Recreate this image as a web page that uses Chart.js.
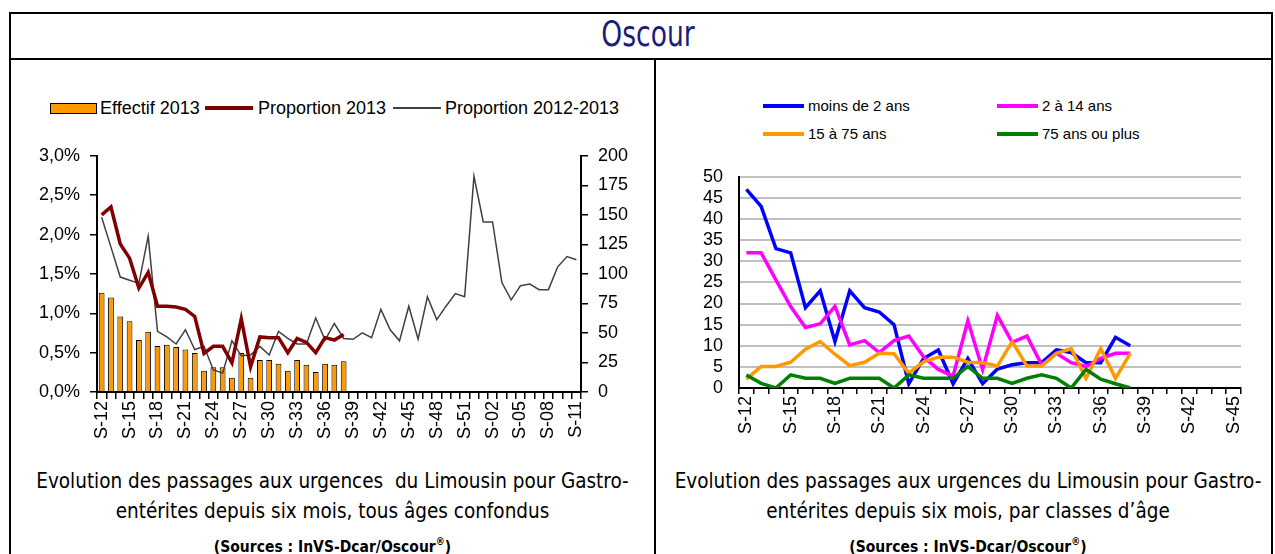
<!DOCTYPE html>
<html>
<head>
<meta charset="utf-8">
<script src="https://cdn.jsdelivr.net/npm/chart.js@4/dist/chart.umd.min.js"></script>
<style>
  body { margin: 0; background: #fff; width: 1275px; height: 554px; overflow: hidden; position: relative;
         font-family: "Liberation Sans", Arial, sans-serif; }
  .ln { position: absolute; background: #000; }
  #title { position: absolute; left: 548px; width: 200px; top: 12px; text-align: center; line-height: 44px;
           font-family: "DejaVu Sans Condensed", "DejaVu Sans", sans-serif; font-stretch: condensed;
           font-size: 36px; color: #1c1c7c; transform: scaleX(0.82); }
  canvas { position: absolute; }
  .sym { position: absolute; }
  .txt { position: absolute; white-space: nowrap; color: #000; line-height: 20px; }
  .cap { position: absolute; text-align: center; line-height: 29px; color: #000; white-space: nowrap;
         font-family: "DejaVu Sans Condensed", "DejaVu Sans", sans-serif; font-stretch: condensed;
         font-size: 20.5px; transform: scaleY(1.05); }
  .src { font-weight: bold; font-size: 15.5px; }
  .src sup { font-size: 10px; }
</style>
</head>
<body>
<!-- frame -->
<div class="ln" style="left:9px;top:12px;width:1264px;height:2px"></div>
<div class="ln" style="left:9px;top:12px;width:2px;height:542px"></div>
<div class="ln" style="left:1271px;top:12px;width:2px;height:542px"></div>
<div class="ln" style="left:9px;top:58px;width:1264px;height:2px"></div>
<div class="ln" style="left:654px;top:58px;width:2px;height:496px"></div>
<div id="title">Oscour</div>

<!-- left legend -->
<div class="sym" style="left:50px;top:103px;width:47px;height:11px;background:#ff9900;border:1.5px solid #000;box-sizing:border-box"></div>
<div class="txt" style="left:100px;top:98px;font-size:18px">Effectif 2013</div>
<div class="sym" style="left:205px;top:106px;width:48px;height:4px;background:#800000"></div>
<div class="txt" style="left:258px;top:98px;font-size:18px">Proportion 2013</div>
<div class="sym" style="left:393px;top:107px;width:48px;height:2px;background:#404040"></div>
<div class="txt" style="left:445px;top:98px;font-size:18px">Proportion 2012-2013</div>

<!-- right legend -->
<div class="sym" style="left:763px;top:104px;width:41px;height:4px;background:#0000ff"></div>
<div class="txt" style="left:808px;top:96px;font-size:15px">moins de 2 ans</div>
<div class="sym" style="left:997px;top:104px;width:41px;height:4px;background:#ff00ff"></div>
<div class="txt" style="left:1042px;top:96px;font-size:15px">2 à 14 ans</div>
<div class="sym" style="left:763px;top:132px;width:41px;height:4px;background:#ff9900"></div>
<div class="txt" style="left:808px;top:124px;font-size:15px">15 à 75 ans</div>
<div class="sym" style="left:997px;top:132px;width:41px;height:4px;background:#008000"></div>
<div class="txt" style="left:1042px;top:124px;font-size:15px">75 ans ou plus</div>

<canvas id="left" width="640" height="315" style="left:14px;top:135px"></canvas>
<canvas id="right" width="600" height="300" style="left:665px;top:150px"></canvas>

<div class="cap" style="left:11px;width:643px;top:468px">
  Evolution des passages aux urgences&nbsp; du Limousin pour Gastro-<br>
  entérites depuis six mois, tous âges confondus<br>
  <span class="src">(Sources : InVS-Dcar/Oscour<sup>®</sup>)</span>
</div>
<div class="cap" style="left:660px;width:616px;top:468px">
  Evolution des passages aux urgences du Limousin pour Gastro-<br>
  entérites depuis six mois, par classes d’âge<br>
  <span class="src">(Sources : InVS-Dcar/Oscour<sup>®</sup>)</span>
</div>

<script>
// weeks on the left chart (one year)
const weeksLeft = ["S-12","S-13","S-14","S-15","S-16","S-17","S-18","S-19","S-20","S-21","S-22","S-23","S-24",
  "S-25","S-26","S-27","S-28","S-29","S-30","S-31","S-32","S-33","S-34","S-35","S-36","S-37","S-38","S-39",
  "S-40","S-41","S-42","S-43","S-44","S-45","S-46","S-47","S-48","S-49","S-50","S-51","S-52","S-01","S-02",
  "S-03","S-04","S-05","S-06","S-07","S-08","S-09","S-10","S-11"];
// weeks on the right chart
const weeksRight = ["S-12","S-13","S-14","S-15","S-16","S-17","S-18","S-19","S-20","S-21","S-22","S-23","S-24",
  "S-25","S-26","S-27","S-28","S-29","S-30","S-31","S-32","S-33","S-34","S-35","S-36","S-37","S-38","S-39",
  "S-40","S-41","S-42","S-43","S-44","S-45"];

// left chart series
const effectif2013 = [84, 80, 64, 60, 44, 51, 39, 40, 38, 36, 33, 18, 21, 21, 12, 33, 12, 27, 27, 24, 18, 27, 23, 17, 24, 23, 26];
const proportion2013 = [2.25, 2.35, 1.88, 1.70, 1.32, 1.52, 1.09, 1.09, 1.08, 1.05, 0.96, 0.49, 0.58, 0.58, 0.37,
  0.93, 0.32, 0.70, 0.69, 0.69, 0.50, 0.68, 0.63, 0.50, 0.69, 0.66, 0.73];
const proportion20122013 = [2.22, 1.84, 1.46, 1.42, 1.38, 1.98, 0.77, 0.70, 0.61, 0.79, 0.54, 0.58, 0.28, 0.24,
  0.65, 0.46, 0.47, 0.58, 0.47, 0.77, 0.68, 0.61, 0.61, 0.94, 0.66, 0.87, 0.68, 0.67, 0.75, 0.69, 1.05, 0.79,
  0.65, 1.09, 0.67, 1.21, 0.92, 1.09, 1.25, 1.21, 2.74, 2.16, 2.16, 1.39, 1.17, 1.35, 1.37, 1.30, 1.30, 1.59,
  1.72, 1.68];
const pctTicks = ["0,0%", "0,5%", "1,0%", "1,5%", "2,0%", "2,5%", "3,0%"];

// right chart series (by age class)
const moins2ans = [47, 43, 33, 32, 19, 23, 11, 23, 19, 18, 15, 1, 7, 9, 1, 7, 1, 4.5, 5.5, 6, 6, 9, 8.4, 6, 6, 12, 10];
const de2a14 = [32, 32, 25.6, 19.3, 14.3, 15.2, 19.3, 10.2, 11.2, 8.4, 11.2, 12.3, 7.4, 4.4, 2.8, 15.9, 4.4, 17.2,
  10.8, 12.3, 5.5, 8.2, 6, 5.1, 7, 8.2, 8.2];
const de15a75 = [2.1, 5.1, 5.1, 6.1, 9.2, 11, 8, 5.3, 6.1, 8.2, 8.1, 3.5, 6.2, 7.3, 7.3, 6.1, 6, 5.2, 11, 5.2, 5.2,
  8.2, 9.3, 2.3, 9.3, 2.3, 8.2];
const plus75 = [3.1, 1.1, 0, 3.1, 2.3, 2.3, 1.1, 2.3, 2.3, 2.3, 0, 3.1, 2.3, 2.3, 2.3, 5.1, 2.3, 2.3, 1.1, 2.3, 3.1,
  2.3, 0, 4.4, 2.1, 1, 0];

Chart.defaults.font.family = '"Liberation Sans", Arial, sans-serif';
Chart.defaults.font.size = 18;
Chart.defaults.color = "#000";

// every third week gets a label
function everyThird(v, i) {
  return i % 3 === 0 ? this.getLabelForValue(v) : "";
}

new Chart(document.getElementById("left"), {
  type: "bar",
  data: {
    labels: weeksLeft,
    datasets: [
      { type: "line", label: "Proportion 2013", data: proportion2013, yAxisID: "y",
        borderColor: "#800000", borderWidth: 3.5, pointRadius: 0, order: 0 },
      { type: "line", label: "Proportion 2012-2013", data: proportion20122013, yAxisID: "y",
        borderColor: "#404040", borderWidth: 1.5, pointRadius: 0, order: 1 },
      { type: "bar", label: "Effectif 2013", data: effectif2013, yAxisID: "y1",
        backgroundColor: "#ff9900", borderColor: "#000", borderWidth: 1,
        categoryPercentage: 1, barPercentage: 0.62, order: 2 }
    ]
  },
  options: {
    responsive: false,
    animation: false,
    layout: { padding: { top: 10, bottom: 3, left: 0, right: 0 } },
    plugins: { legend: { display: false }, tooltip: { enabled: false } },
    scales: {
      x: {
        offset: true,
        grid: { offset: true, drawOnChartArea: false, tickLength: 7, color: "#000", lineWidth: 1.5 },
        border: { color: "#000", width: 2 },
        ticks: { autoSkip: false, minRotation: 90, maxRotation: 90, padding: 2, callback: everyThird },
        afterFit: s => { s.height = 55; }
      },
      y: {
        position: "left", min: 0, max: 3,
        ticks: { stepSize: 0.5, padding: 10, autoSkip: false, callback: (v, i) => pctTicks[i] },
        grid: { drawOnChartArea: false, tickLength: 7, color: "#000", lineWidth: 1.5 },
        border: { color: "#000", width: 2 },
        afterFit: s => { s.width = 83; }
      },
      y1: {
        position: "right", min: 0, max: 200,
        ticks: { stepSize: 25, padding: 10, autoSkip: false },
        grid: { drawOnChartArea: false, tickLength: 7, color: "#000", lineWidth: 1.5 },
        border: { color: "#000", width: 2 },
        afterFit: s => { s.width = 73; }
      }
    }
  }
});

new Chart(document.getElementById("right"), {
  type: "line",
  data: {
    labels: weeksRight,
    datasets: [
      { label: "moins de 2 ans", data: moins2ans, borderColor: "#0000ff", order: 3 },
      { label: "2 à 14 ans", data: de2a14, borderColor: "#ff00ff", order: 2 },
      { label: "15 à 75 ans", data: de15a75, borderColor: "#ff9900", order: 1 },
      { label: "75 ans ou plus", data: plus75, borderColor: "#008000", order: 0 }
    ]
  },
  options: {
    responsive: false,
    animation: false,
    elements: { line: { borderWidth: 3.5, tension: 0 }, point: { radius: 0 } },
    layout: { padding: { top: 10, bottom: 7, left: 0, right: 24 } },
    plugins: { legend: { display: false }, tooltip: { enabled: false } },
    scales: {
      x: {
        offset: true,
        grid: { offset: true, drawOnChartArea: false, tickLength: 6, color: "#000", lineWidth: 1.5 },
        border: { color: "#000", width: 2 },
        ticks: { autoSkip: false, minRotation: 90, maxRotation: 90, padding: 2, callback: everyThird },
        afterFit: s => { s.height = 55; }
      },
      y: {
        min: 0, max: 50,
        ticks: { stepSize: 5, padding: 16, autoSkip: false },
        grid: { drawTicks: false, lineWidth: 2,
                color: c => (c.tick && c.tick.value === 0 ? "rgba(0,0,0,0)" : "#c0c0c0") },
        border: { color: "#000", width: 2 },
        afterFit: s => { s.width = 74; }
      }
    }
  }
});
</script>
</body>
</html>
